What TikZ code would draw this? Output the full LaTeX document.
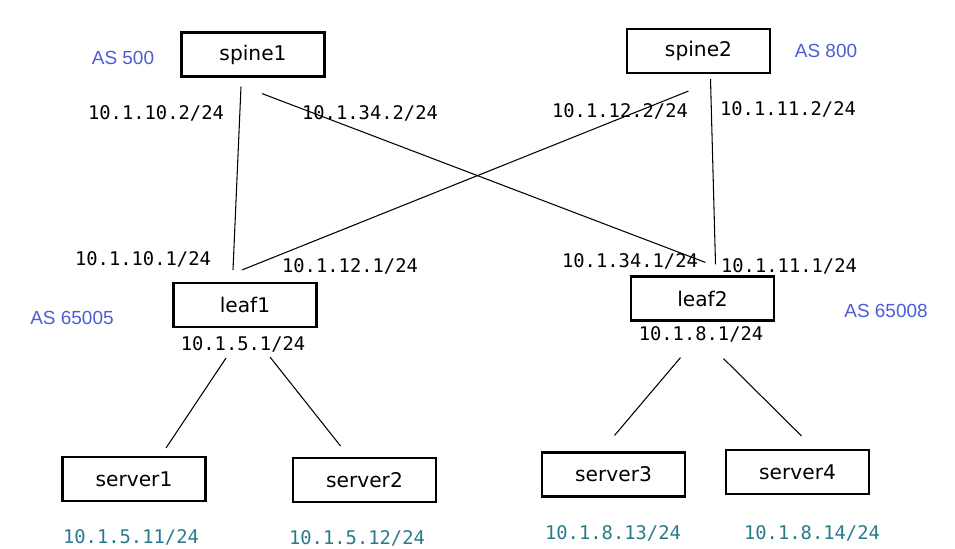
\documentclass[tikz,border=0pt]{standalone}
\usepackage{fontspec}
\setmainfont{DejaVu Sans}
\setmonofont{DejaVu Sans Mono}
\newfontfamily\asfont{Liberation Sans}
\definecolor{asblue}{HTML}{4C5DD6}
\definecolor{ipteal}{HTML}{2B7A8C}
\tikzset{
  devbox/.style={draw, line width=1.2pt, minimum width=2.86cm, minimum height=0.88cm, inner sep=0pt, font=\fontsize{11.5}{14}\selectfont},
  iplabel/.style={font=\ttfamily\fontsize{10.7}{13}\selectfont},
  ipserver/.style={font=\ttfamily\fontsize{10.7}{13}\selectfont, text=ipteal},
  aslabel/.style={font=\asfont\fontsize{10.8}{13}\selectfont, text=asblue},
  link/.style={line width=0.6pt}
}
\begin{document}
\begin{tikzpicture}[x=0.02cm, y=-0.02cm]
  \useasboundingbox (0,0) rectangle (955,548);

  % 画设备
  \node[devbox] (spine1) at (253,54.5) {spine1};
  \node[devbox] (spine2) at (698.5,51) {spine2};
  \node[devbox] (leaf1) at (245,305) {leaf1};
  \node[devbox] (leaf2) at (702.5,298.5) {leaf2};
  \node[devbox] (server1) at (134,479) {server1};
  \node[devbox] (server2) at (364.5,480) {server2};
  \node[devbox] (server3) at (613.5,474.5) {server3};
  \node[devbox] (server4) at (797.5,472) {server4};

  % 标注AS号
  \node[aslabel] (as1) at (123,58) {AS 500};
  \node[aslabel] (as2) at (826,51) {AS 800};
  \node[aslabel] (as3) at (72,318) {AS 65005};
  \node[aslabel] (as4) at (886,311) {AS 65008};

  % 画连线
  \draw[link] ([shift={(-12,9)}]spine1.south) -- ([shift={(-12,-12)}]leaf1.north);
  \draw[link] ([shift={(9,16)}]spine1.south) -- ([shift={(3,-13)}]leaf2.north);
  \draw[link] ([shift={(-10,17)}]spine2.south) -- ([shift={(-3,-12)}]leaf1.north);
  \draw[link] ([shift={(12,5)}]spine2.south) -- ([shift={(13,-11)}]leaf2.north);
  \draw[link] ([shift={(-19,30)}]leaf1.south) -- ([shift={(32,-8)}]server1.north);
  \draw[link] ([shift={(25,29)}]leaf1.south) -- ([shift={(-24,-11)}]server2.north);
  \draw[link] ([shift={(-22,36)}]leaf2.south) -- ([shift={(1,-16)}]server3.north);
  \draw[link] ([shift={(21,37)}]leaf2.south) -- ([shift={(4,-13)}]server4.north);

  % 标注接口地址
  \node[iplabel] (ip1) at (156,113) {10.1.10.2/24};
  \node[iplabel] (ip2) at (370,113) {10.1.34.2/24};
  \node[iplabel] (ip3) at (620,111) {10.1.12.2/24};
  \node[iplabel] (ip4) at (788,109) {10.1.11.2/24};
  \node[iplabel] (ip5) at (143,259) {10.1.10.1/24};
  \node[iplabel] (ip6) at (350,266) {10.1.12.1/24};
  \node[iplabel] (ip7) at (630,261) {10.1.34.1/24};
  \node[iplabel] (ip8) at (789,266) {10.1.11.1/24};
  \node[iplabel] (ip9) at (243,344) {10.1.5.1/24};
  \node[iplabel] (ip10) at (701,334) {10.1.8.1/24};

  % 服务器地址
  \node[ipserver] (sip1) at (131,537) {10.1.5.11/24};
  \node[ipserver] (sip2) at (357,538) {10.1.5.12/24};
  \node[ipserver] (sip3) at (613,533) {10.1.8.13/24};
  \node[ipserver] (sip4) at (812,533) {10.1.8.14/24};
\end{tikzpicture}
\end{document}
